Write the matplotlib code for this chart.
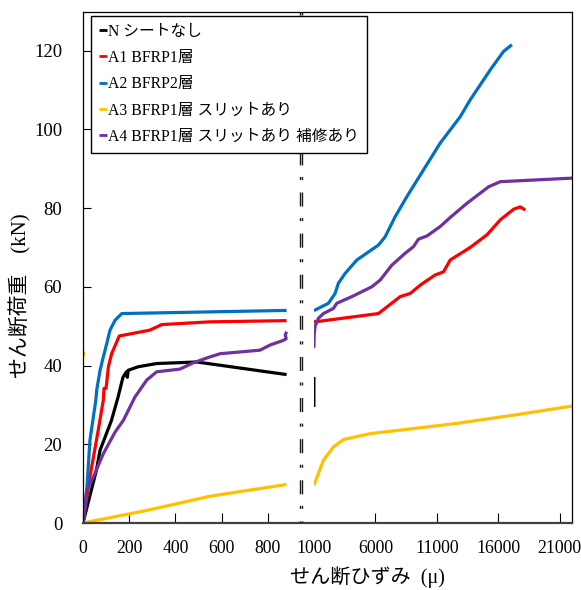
import numpy as np
import matplotlib
matplotlib.use("Agg")
import matplotlib.pyplot as plt
from matplotlib import transforms
from matplotlib.patches import Rectangle

plt.rcParams['font.family'] = ['Liberation Serif', 'Noto Sans CJK JP']
plt.rcParams['lines.scale_dashes'] = False

nan = np.nan

# ---------------- data ----------------
labels = ["N シートなし", "A1 BFRP1層", "A2 BFRP2層",
          "A3 BFRP1層 スリットあり", "A4 BFRP1層 スリットあり 補修あり"]
colors = ["#000000", "#FF0000", "#0070C0", "#FFC000", "#7030A0"]

n_x = [0, 58, 74, 123, 152, 173, 188, 192, 196, 240, 319, 493, 882,
       nan, 1000, 1001]
n_y = [0, 13.4, 18.5, 26.0, 32.0, 37.0, 38.4, 37.0, 38.8, 39.7, 40.5, 40.9, 37.7,
       nan, 37.1, 29.5]

a1_x = [0, 30, 66, 88, 91, 100, 110, 124, 157, 290, 341, 550, 882,
        nan, 1000, 1100, 6253, 8020, 8834, 9648, 10055, 10870, 11548, 12091,
        13720, 15079, 16165, 17248, 17790, 18199]
a1_y = [0, 11.7, 23.6, 31.2, 34.2, 34.2, 39.7, 43.0, 47.5, 49.0, 50.4, 51.1, 51.4,
        nan, 51.4, 51.1, 53.2, 57.5, 58.3, 60.4, 61.3, 63.0, 63.8, 66.8,
        70.0, 73.2, 77.0, 79.7, 80.3, 79.5]

a2_x = [0, 16, 30, 55, 60, 74, 85, 103, 117, 139, 168, 882,
        nan, 1000, 1100, 2181, 2726, 2995, 3541, 4493, 6253, 6798, 7612, 8565,
        11277, 12906, 13720, 15349, 16435, 17115]
a2_y = [0, 8.0, 21.0, 31.0, 34.0, 38.8, 41.5, 45.6, 49.0, 51.5, 53.2, 54.0,
        nan, 54.0, 54.1, 55.8, 58.3, 60.9, 63.4, 66.8, 70.6, 72.7, 77.8, 82.9,
        96.5, 103.2, 107.5, 115.1, 119.8, 121.5]

a3_x = [0, 276, 550, 882,
        nan, 1000, 1774, 2588, 3402, 5577, 12637, 17248, 22000,
        nan, 0, 0]
a3_y = [0, 3.2, 6.8, 9.8,
        nan, 9.6, 15.9, 19.3, 21.2, 22.7, 25.3, 27.4, 29.7,
        nan, 42.3, 43.6]

a4_x = [0, 16, 45, 88, 139, 175, 225, 276, 319, 420, 478, 550, 594, 767, 810,
        868, 880, 876, 882,
        nan, 1000, 1030, 1100, 1370, 1774, 2588, 2864, 4086, 5715, 6391, 7344,
        8420, 9104, 9511, 10193, 11277, 12091, 13449, 15215, 16165, 22000]
a4_y = [0, 8.3, 11.7, 17.6, 23.1, 26.1, 32.0, 36.3, 38.4, 39.1, 40.7, 42.2, 43.0,
        43.9, 45.2, 46.4, 46.8, 47.8, 48.6,
        nan, 44.5, 48.0, 50.0, 52.0, 53.2, 54.5, 55.8, 57.5, 60.0, 61.7, 65.5,
        68.5, 70.2, 72.1, 72.9, 75.3, 77.6, 81.2, 85.4, 86.7, 87.6]

series_x = [n_x, a1_x, a2_x, a3_x, a4_x]
series_y = [n_y, a1_y, a2_y, a3_y, a4_y]

x_ticks = [0, 200, 400, 600, 800, 1000, 6000, 11000, 16000, 21000]
y_ticks = [0, 20, 40, 60, 80, 100, 120]

# broken-axis scale: 0-1000 linear, above 1000 compressed
SPLIT = 1000.0
K = 0.05324
BREAK_X = 943
X_MAX = 22000
Y_MAX = 129.8


def fwd(x):
    x = np.asarray(x, dtype=float)
    return np.where(x <= SPLIT, x, SPLIT + (x - SPLIT) * K)


def inv(u):
    u = np.asarray(u, dtype=float)
    return np.where(u <= SPLIT, u, SPLIT + (u - SPLIT) / K)


def segments(xs, ys):
    xs = np.asarray(xs, float)
    ys = np.asarray(ys, float)
    idx = np.where(np.isnan(xs))[0]
    bounds = [-1] + list(idx) + [len(xs)]
    out = []
    for a, b in zip(bounds[:-1], bounds[1:]):
        if b - a > 1:
            out.append((xs[a + 1:b], ys[a + 1:b]))
    return out


fig = plt.figure(figsize=(5.81, 5.90), dpi=100)
ax = fig.add_axes([83 / 581, 67 / 590, 489 / 581, 511 / 590])
ax.set_xscale('function', functions=(fwd, inv))
ax.set_xlim(0, X_MAX)
ax.set_ylim(0, Y_MAX)

right_clip = Rectangle((SPLIT, 0), X_MAX - SPLIT, Y_MAX, transform=ax.transData,
                       facecolor='none', edgecolor='none')

for xs, ys, c, lab in zip(series_x, series_y, colors, labels):
    first = True
    for sx, sy in segments(xs, ys):
        ln, = ax.plot(sx, sy, color=c, lw=2.3, label=lab if first else None,
                      solid_joinstyle='round', solid_capstyle='butt')
        first = False
        if sx.min() >= SPLIT:
            ln.set_clip_path(right_clip)

# break marker (double dash-dot line)
base = ax.get_xaxis_transform()
for dx in (-1.2, 1.2):
    tr = transforms.offset_copy(base, fig=fig, x=dx, y=0, units='dots')
    ax.plot([BREAK_X, BREAK_X], [1, 0], transform=tr, color='#1a1a1a', lw=1.0,
            linestyle=(0, (2.2, 9.0, 10.1, 8.3)), zorder=3)

ax.set_xticks(x_ticks)
ax.set_xticklabels([str(t) for t in x_ticks])
ax.set_yticks(y_ticks)
ax.minorticks_off()
ax.tick_params(axis='both', direction='in', color='black')
ax.tick_params(axis='y', length=6, pad=15, labelsize=13.5)
ax.tick_params(axis='x', length=7, pad=12, labelsize=12.8)
ax.xaxis.get_major_ticks()[5].tick1line.set_visible(False)

for s in ['left', 'top', 'right']:
    ax.spines[s].set_color('black')
    ax.spines[s].set_linewidth(0.9)
ax.spines['bottom'].set_color('#404040')
ax.spines['bottom'].set_linewidth(1.6)

ax.set_ylabel("せん断荷重　(kN)", fontsize=15)
ax.yaxis.set_label_coords(-0.105, 0.444)
ax.set_xlabel("せん断ひずみ  (μ)", fontsize=14.5)
ax.xaxis.set_label_coords(0.581, -0.084)

leg = ax.legend(loc='upper left', bbox_to_anchor=(8 / 489, 1 - 3.7 / 511),
                borderaxespad=0, fontsize=11.3, handlelength=0.5,
                handletextpad=0.1, labelspacing=0.66, fancybox=False,
                framealpha=1, edgecolor='black', borderpad=0.5)
leg.get_frame().set_linewidth(1.0)
for h in leg.get_lines():
    h.set_linewidth(2.0)

fig.savefig("out.png", dpi=100)
